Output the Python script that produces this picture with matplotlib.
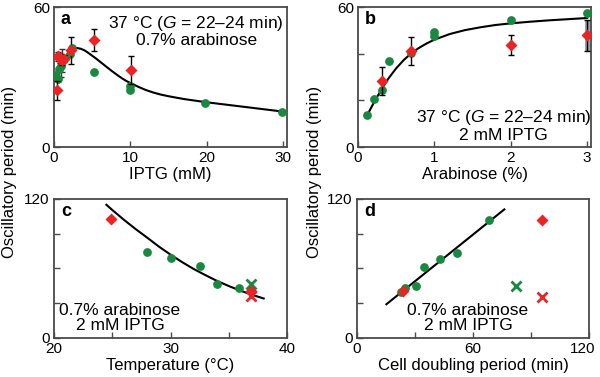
import matplotlib
matplotlib.use("Agg")
import matplotlib.pyplot as plt
import matplotlib.transforms as mtransforms

plt.rcParams['font.family'] = ['Liberation Sans', 'DejaVu Sans']
plt.rcParams['mathtext.fontset'] = 'custom'
plt.rcParams['mathtext.rm'] = 'Liberation Sans'
plt.rcParams['mathtext.it'] = 'Liberation Sans:italic'
plt.rcParams['font.size'] = 12

GREEN = '#1a8840'
RED = '#ea2324'
SPINE = '#4a4a4a'

# ---- Panel a: IPTG (mM) vs period ----
a_green_x = [0.15, 0.5, 0.7, 0.9, 1.1, 2.1, 2.3, 5.2, 10.0, 10.0, 19.8, 29.8]
a_green_y = [31, 29, 33.5, 35, 37, 40, 42.5, 32, 26, 24.5, 19, 15]
a_green_err = [0, 0, 4, 5, 5, 0, 0, 0, 0, 0, 0, 0]
a_red_x = [0.35, 0.55, 0.8, 1.0, 1.3, 2.2, 5.2, 10.1]
a_red_y = [24.4, 39, 38, 37.4, 38, 41.5, 46, 33]
a_red_err = [4, 2, 2, 2, 1.5, 5.7, 4.8, 6]
a_fit_x = [1.8, 2.2, 2.6, 3, 3.5, 4, 4.5, 5, 5.5, 6, 6.5, 7, 7.5, 8, 8.5, 9, 9.5,
           10, 11, 12, 13, 14, 15, 17, 20, 23, 26, 30]
a_fit_y = [41.2, 42.1, 42.5, 42.5, 42.2, 41.5, 40.4, 39.2, 38, 36.7, 35.4, 34.1, 32.8,
           31.6, 30.4, 29.3, 28.3, 27.5, 25.9, 24.5, 23.4, 22.5, 21.8, 20.6, 19.2, 18,
           16.8, 15.2]

# ---- Panel b: Arabinose (%) vs period ----
b_green_x = [0.12, 0.21, 0.31, 0.41, 0.70, 1.0, 1.0, 2.0, 3.0]
b_green_y = [13.6, 20.5, 24.4, 37, 40.2, 49.5, 47.6, 54.5, 57.4]
b_red_x = [0.31, 0.70, 2.0, 3.0]
b_red_y = [28.4, 41.4, 43.8, 47.9]
b_red_err = [6, 6, 4.3, 6.6]
b_fit_x = [0.12, 0.15, 0.2, 0.25, 0.3, 0.35, 0.4, 0.5, 0.6, 0.7, 0.8, 0.9, 1.0, 1.2,
           1.4, 1.6, 1.8, 2.0, 2.25, 2.5, 2.75, 3.0]
b_fit_y = [13.6, 15.5, 18.6, 21.5, 24.3, 27, 29.5, 33.8, 37.4, 40.3, 42.6, 44.5, 46.1,
           48.5, 50.2, 51.4, 52.4, 53.1, 53.8, 54.4, 54.9, 55.4]

# ---- Panel c: Temperature (°C) vs period ----
c_green_x = [28.0, 30.0, 32.5, 34.0, 35.9]
c_green_y = [74.4, 69.2, 62, 46.1, 43.2]
c_red_x = [24.9, 36.9]
c_red_y = [102.4, 40.3]
c_greenx_x = [36.9]
c_greenx_y = [46]
c_redx_x = [36.9]
c_redx_y = [35.6]
c_fit_x = [24.5, 25, 26, 27, 28, 29, 30, 31, 32, 33, 34, 35, 36, 37, 38]
c_fit_y = [115, 110.5, 102, 94, 86.5, 78.8, 71.8, 65.3, 59.3, 54, 49, 44.6, 40.6, 37, 33.8]

# ---- Panel d: Cell doubling period (min) vs period ----
d_green_x = [22.8, 25.0, 30.3, 34.6, 42.9, 51.6, 68.4]
d_green_y = [39.7, 42.6, 44.9, 61.4, 68.3, 73.5, 101.8]
d_red_x = [23.9, 95.8]
d_red_y = [40.6, 101.8]
d_greenx_x = [82.2]
d_greenx_y = [44.6]
d_redx_x = [95.8]
d_redx_y = [35.4]
d_fit_x = [15.2, 76.2]
d_fit_y = [28.8, 111.0]

fig = plt.figure(figsize=(6, 3.77), dpi=100)
W, H = 600, 377

def add_ax(l, t, r, b):
    return fig.add_axes([l / W, 1 - b / H, (r - l) / W, (b - t) / H])

axa = add_ax(54, 7.3, 287, 147)
axb = add_ax(358, 7.3, 591, 147)
axc = add_ax(54, 199, 287, 337.5)
axd = add_ax(357, 199, 589, 337.5)

ms_c = 6.3
ms_d = 6.0
ms_x = 7
TXT = 12.5

def style(ax):
    for s in ax.spines.values():
        s.set_color(SPINE)
        s.set_linewidth(1.3)
    ax.tick_params(direction='in', length=4, width=1, color=SPINE, pad=3,
                   labelsize=11, top=False, right=False)

# Panel a
axa.plot(a_fit_x, a_fit_y, color='black', lw=1.5, zorder=2)
axa.errorbar(a_green_x, a_green_y, yerr=a_green_err, fmt='none', ecolor='#333333',
             elinewidth=1.0, capsize=2, zorder=2)
axa.plot(a_green_x, a_green_y, 'o', color=GREEN, ms=ms_c, mec='none', zorder=3)
axa.errorbar(a_red_x, a_red_y, yerr=a_red_err, fmt='D', color=RED, ms=ms_d, mec='none',
             ecolor='black', elinewidth=1.0, capsize=2, zorder=4)
axa.set_xlim(0, 30.5)
axa.set_ylim(0, 60)
axa.set_xticks([0, 10, 20, 30])
axa.set_yticks([0, 60])
axa.set_xlabel('IPTG (mM)', labelpad=1.5)
axa.text(0.61, 0.955, '37 °C ($\\mathit{G}$ = 22–24 min)\n0.7% arabinose', transform=axa.transAxes,
         ha='center', va='top', fontsize=TXT, linespacing=1.05)
axa.text(0.03, 0.97, 'a', transform=axa.transAxes, ha='left', va='top',
         fontsize=13, fontweight='bold')

# Panel b
axb.plot(b_fit_x, b_fit_y, color='black', lw=1.5, zorder=2)
axb.errorbar(b_red_x[-1:], b_red_y[-1:], yerr=b_red_err[-1:], fmt='none', ecolor='#9a9a9a',
             elinewidth=3.5, capsize=0, zorder=1)
axb.plot(b_green_x, b_green_y, 'o', color=GREEN, ms=ms_c, mec='none', zorder=3)
axb.errorbar(b_red_x, b_red_y, yerr=b_red_err, fmt='D', color=RED, ms=ms_d, mec='none',
             ecolor='black', elinewidth=1.0, capsize=2, zorder=4)
axb.set_xlim(0, 3.05)
axb.set_ylim(0, 60)
axb.set_xticks([0, 1, 2, 3])
axb.set_yticks([0, 20, 40, 60])
axb.set_yticklabels(['0', '', '', '60'])
axb.set_xlabel('Arabinose (%)', labelpad=1.5)
axb.text(0.625, 0.03, '37 °C ($\\mathit{G}$ = 22–24 min)\n2 mM IPTG', transform=axb.transAxes,
         ha='center', va='bottom', fontsize=TXT, linespacing=1.05)
axb.text(0.03, 0.97, 'b', transform=axb.transAxes, ha='left', va='top',
         fontsize=13, fontweight='bold')

# Panel c
axc.plot(c_fit_x, c_fit_y, color='black', lw=1.5, zorder=2)
axc.plot(c_green_x, c_green_y, 'o', color=GREEN, ms=ms_c, mec='none', zorder=3)
axc.plot(c_greenx_x, c_greenx_y, 'x', color=GREEN, ms=ms_x, mew=2, zorder=3)
axc.plot(c_redx_x, c_redx_y, 'x', color=RED, ms=ms_x, mew=2, zorder=4)
axc.plot(c_red_x, c_red_y, 'D', color=RED, ms=ms_d, mec='none', zorder=4)
axc.set_xlim(20, 40)
axc.set_ylim(0, 120)
axc.set_xticks([20, 25, 30, 35, 40])
axc.set_xticklabels(['20', '', '30', '', '40'])
axc.set_yticks([0, 30, 60, 90, 120])
axc.set_yticklabels(['0', '', '', '', '120'])
axc.set_xlabel('Temperature (°C)', labelpad=1.5)
axc.text(0.283, 0.03, '0.7% arabinose\n2 mM IPTG', transform=axc.transAxes,
         ha='center', va='bottom', fontsize=TXT, linespacing=1.05)
axc.text(0.03, 0.97, 'c', transform=axc.transAxes, ha='left', va='top',
         fontsize=13, fontweight='bold')

# Panel d
axd.plot(d_fit_x, d_fit_y, color='black', lw=1.5, zorder=2)
axd.plot(d_green_x, d_green_y, 'o', color=GREEN, ms=ms_c, mec='none', zorder=3)
axd.plot(d_greenx_x, d_greenx_y, 'x', color=GREEN, ms=ms_x, mew=2, zorder=3)
axd.plot(d_redx_x, d_redx_y, 'x', color=RED, ms=ms_x, mew=2, zorder=4)
axd.plot(d_red_x, d_red_y, 'D', color=RED, ms=ms_d, mec='none', zorder=4)
axd.set_xlim(0, 120)
axd.set_ylim(0, 120)
axd.set_xticks([0, 30, 60, 90, 120])
axd.set_xticklabels(['0', '', '60', '', '120'])
axd.set_yticks([0, 30, 60, 90, 120])
axd.set_yticklabels(['0', '', '', '', '120'])
axd.set_xlabel('Cell doubling period (min)', labelpad=1.5)
axd.text(0.478, 0.03, '0.7% arabinose\n2 mM IPTG', transform=axd.transAxes,
         ha='center', va='bottom', fontsize=TXT, linespacing=1.05)
axd.text(0.03, 0.97, 'd', transform=axd.transAxes, ha='left', va='top',
         fontsize=13, fontweight='bold')

for ax in (axa, axb, axc, axd):
    style(ax)

# nudge the last x tick label of panel d slightly left so it stays inside the figure
last = axd.get_xticklabels()[-1]
last.set_transform(last.get_transform() +
                   mtransforms.ScaledTranslation(-6 / 100, 0, fig.dpi_scale_trans))

fig.text(10 / W, 1 - 172 / H, 'Oscillatory period (min)', rotation=90,
         ha='center', va='center', fontsize=12)
fig.text(315 / W, 1 - 172 / H, 'Oscillatory period (min)', rotation=90,
         ha='center', va='center', fontsize=12)

fig.savefig('out.png', dpi=100)
